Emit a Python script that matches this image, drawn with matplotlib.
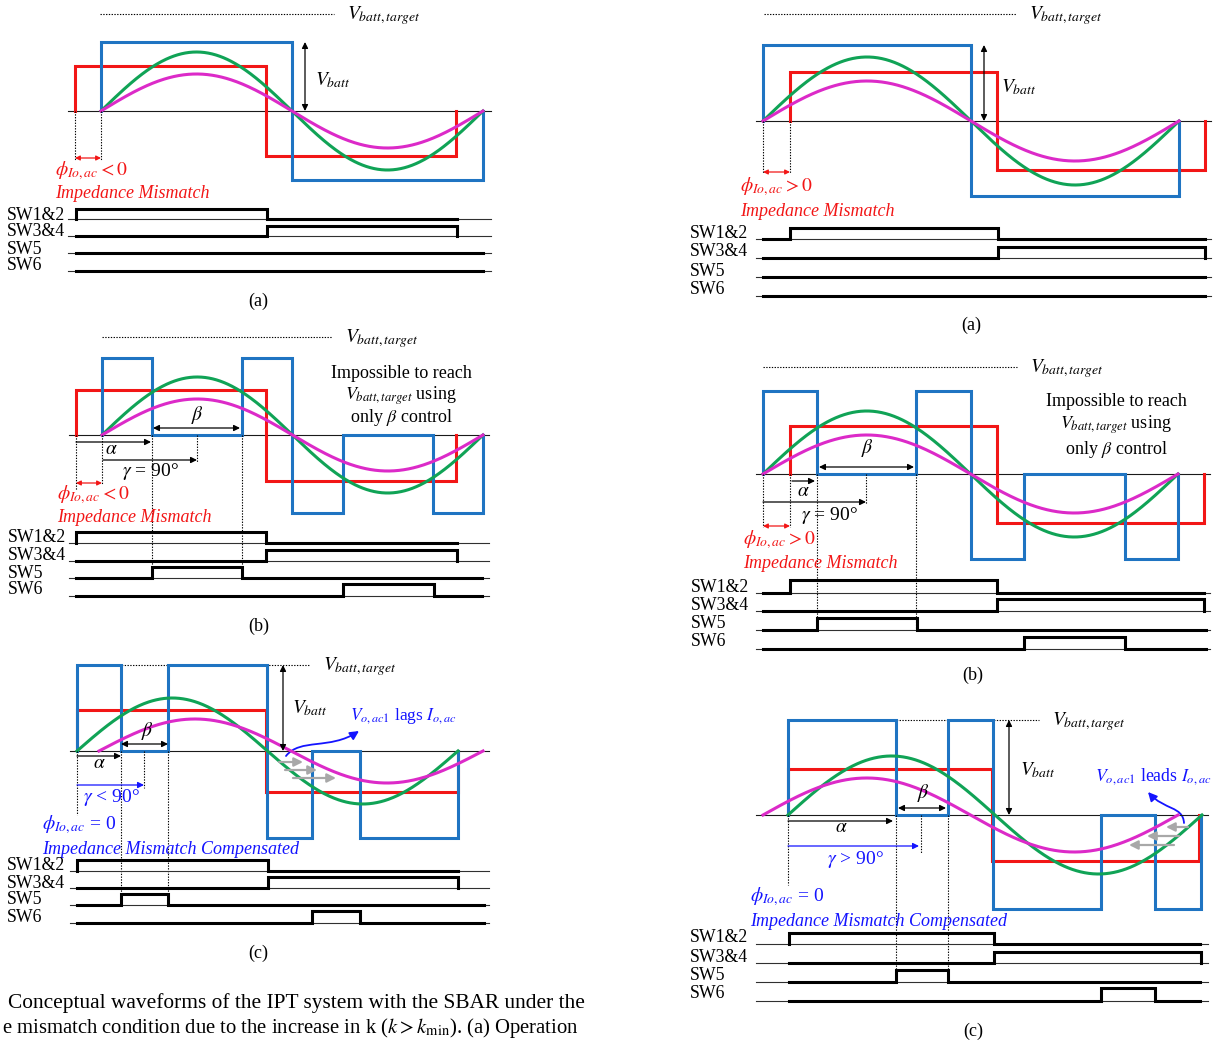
"""Conceptual SBAR waveforms under impedance mismatch: two columns of three panels."""
import matplotlib
import numpy as np

matplotlib.use('Agg')
import matplotlib.pyplot as plt
from matplotlib.patches import FancyArrowPatch
from matplotlib.path import Path

plt.rcParams['font.family'] = ['Liberation Serif', 'DejaVu Serif']
plt.rcParams['mathtext.fontset'] = 'stix'

RED = '#f21616'
BLUE = '#1f74c2'
GREEN = '#10a356'
MAGENTA = '#dc2ac8'
TXT_BLUE = '#1414ff'
GRAY = '#a8a8a8'

SW_NAMES = ['SW1&2', 'SW3&4', 'SW5', 'SW6']

# ---- left column -------------------------------------------------------
# (a)
LA_Y0 = 111
LA_AXIS = [68, 491]
LA_TARGET = (100, 334, 13.5)
LA_RED = ([75, 266, 456], [45, -45])
LA_BLUE = ([101, 292, 483], [69, -69])
LA_GREEN = (101, 191, 59, 483)            # start, half period, amplitude, end
LA_MAGENTA = (101, 191, 37, 483)
LA_SW_BASE = [219, 236, 253, 271]
LA_SW_LABEL = [215, 232, 249, 266]
LA_SW = [([76, 267, 457], [10, 0]),
         ([76, 267, 457], [0, 10]),
         ([76, 483], [0]),
         ([76, 483], [0])]

# (b)
LB_Y0 = 435
LB_AXIS = [69, 489]
LB_TARGET = (102, 332, 337)
LB_RED = ([76, 266, 456], [45, -46])
LB_BLUE = ([102, 152, 242, 292, 343, 433, 483], [77, 0, 77, -78, 0, -78])
LB_GREEN = (102, 190.5, 58, 483)
LB_MAGENTA = (102, 190.5, 36, 483)
LB_SW_BASE = [543, 561, 578, 596]
LB_SW_LABEL = [538, 556, 573, 590]
LB_SW = [([76, 266, 457], [11, 0]),
         ([76, 266, 457], [0, 11]),
         ([76, 152, 242, 482], [0, 11, 0]),
         ([76, 343, 434, 482], [0, 12, 0])]

# (c)
LC_Y0 = 751
LC_AXIS = [70, 489]
LC_TARGET = (77, 310, 665)
LC_RED = ([77, 266, 458], [41, -41])
LC_BLUE = ([77, 121, 168, 267, 312, 360, 458], [86, 0, 86, -87, 0, -87])
LC_GREEN = (77, 190.5, 53, 458)
LC_MAGENTA = (99, 192, 32, 483)
LC_SW_BASE = [871, 888, 905, 923]
LC_SW_LABEL = [866, 883, 900, 917]
LC_SW = [([77, 268, 458], [11, 0]),
         ([77, 268, 458], [0, 11]),
         ([77, 121, 168, 484], [0, 11, 0]),
         ([77, 312, 360, 484], [0, 12, 0])]

# ---- right column ------------------------------------------------------
# (a)
RA_Y0 = 121
RA_AXIS = [756, 1211]
RA_TARGET = (764, 1016, 14)
RA_RED = ([790, 997, 1205], [49, -49])
RA_BLUE = ([763, 971, 1179], [76, -75])
RA_GREEN = (763, 208, 64, 1179)
RA_MAGENTA = (763, 208, 40, 1179)
RA_SW_BASE = [239, 258, 277, 296]
RA_SW_LABEL = [233, 252, 271, 289]
RA_SW = [([763, 790, 998, 1205], [0, 11, 0]),
         ([763, 998, 1205], [0, 11]),
         ([763, 1205], [0]),
         ([763, 1205], [0])]

# (b)
RB_Y0 = 474
RB_AXIS = [756, 1210]
RB_TARGET = (763, 1017, 367)
RB_RED = ([790, 997, 1204], [48, -49])
RB_BLUE = ([763, 817, 916, 971, 1024, 1125, 1178], [83, 0, 83, -85, 0, -85])
RB_GREEN = (763, 207.5, 63, 1178)
RB_MAGENTA = (763, 207.5, 39, 1178)
RB_SW_BASE = [593, 611, 630, 649]
RB_SW_LABEL = [587, 605, 624, 642]
RB_SW = [([763, 790, 997, 1204], [0, 13, 0]),
         ([763, 997, 1204], [0, 12]),
         ([763, 817, 917, 1206], [0, 12, 0]),
         ([763, 1024, 1125, 1206], [0, 12, 0])]

# (c)
RC_Y0 = 815
RC_AXIS = [756, 1208]
RC_TARGET = (788, 1039, 720)
RC_RED = ([788, 992, 1199], [46, -46])
RC_BLUE = ([788, 896, 948, 993, 1101, 1155, 1201], [95, 0, 95, -94, 0, -94])
RC_GREEN = (788, 207, 59, 1202)
RC_MAGENTA = (763, 207.5, 37, 1178)
RC_SW_BASE = [944, 963, 982, 1001]
RC_SW_LABEL = [938, 957, 975, 994]
RC_SW = [([789, 994, 1200], [11, 0]),
         ([789, 994, 1201], [0, 11]),
         ([789, 896, 948, 1200], [0, 12, 0]),
         ([789, 1101, 1155, 1200], [0, 13, 0])]

FS_TXT = 13
FS_MATH = 14


def step_path(edges, levels, y0):
    xs, ys = [edges[0]], [y0]
    for i, lv in enumerate(levels):
        xs += [edges[i], edges[i + 1]]
        ys += [y0 - lv, y0 - lv]
    xs.append(edges[-1])
    ys.append(y0)
    return xs, ys


def dotted(ax, x0, y0, x1, y1):
    ax.plot([x0, x1], [y0, y1], color='k', lw=0.8, ls=(0, (1.2, 1.3)))


def arrow(ax, x0, y0, x1, y1, color='k', both=False, lw=0.9, ms=9):
    style = '<|-|>' if both else '-|>'
    ax.annotate('', xy=(x1, y1), xytext=(x0, y0),
                arrowprops=dict(arrowstyle=style, color=color, lw=lw,
                                shrinkA=0, shrinkB=0, mutation_scale=ms))


def draw_waves(ax, y0, axis_x, target, red, blue, green, magenta):
    ax.plot(axis_x, [y0, y0], color='#1a1a1a', lw=0.8)
    dotted(ax, target[0], target[2], target[1], target[2])
    ax.text(target[1] + 13, target[2] + 2, r'$V_{batt,target}$',
            fontsize=FS_MATH, va='center', ha='left')
    for (edges, levels), col in ((red, RED), (blue, BLUE)):
        xs, ys = step_path(edges, levels, y0)
        ax.plot(xs, ys, color=col, lw=2.2, solid_joinstyle='miter')
    for (xs0, hp, amp, xe), col in ((green, GREEN), (magenta, MAGENTA)):
        x = np.linspace(xs0, xe, 400)
        ax.plot(x, y0 - amp * np.sin(np.pi * (x - xs0) / hp), color=col, lw=2.2)


def draw_switches(ax, label_x, label_ys, base_ys, base_x, traces):
    for name, ly, by, (edges, levels) in zip(SW_NAMES, label_ys, base_ys, traces):
        ax.text(label_x, ly, name, fontsize=12.8, va='center', ha='left')
        ax.plot(base_x, [by, by], color='#303030', lw=0.8)
        xs, ys = step_path(edges, levels, by)
        ax.plot(xs, ys, color='k', lw=2.2, solid_joinstyle='miter')


def curved(ax, pts):
    # cubic bezier: start, two control points, arrow tip
    path = Path(pts, [Path.MOVETO, Path.CURVE4, Path.CURVE4, Path.CURVE4])
    ax.add_patch(FancyArrowPatch(path=path, arrowstyle='-|>', mutation_scale=13,
                                 color=TXT_BLUE, lw=1.3))


fig = plt.figure(figsize=(12.18, 10.42), dpi=100)
ax = fig.add_axes([0, 0, 1, 1])
ax.set_xlim(0, 1218)
ax.set_ylim(1042, 0)
ax.axis('off')

# ---------------- left (a) ----------------
draw_waves(ax, LA_Y0, LA_AXIS, LA_TARGET, LA_RED, LA_BLUE, LA_GREEN, LA_MAGENTA)
arrow(ax, 305, 42, 305, LA_Y0, both=True)
ax.text(315, 80, r'$V_{batt}$', fontsize=FS_MATH, va='center')
dotted(ax, 75, LA_Y0, 75, 160)
dotted(ax, 101, LA_Y0, 101, 160)
arrow(ax, 75, 158, 101, 158, color=RED, both=True, ms=7)
ax.text(55, 171, r'$\phi_{Io,ac} < 0$', color=RED, fontsize=FS_MATH, va='center')
ax.text(55, 194, 'Impedance Mismatch', color=RED, fontsize=FS_TXT, style='italic', va='center')
draw_switches(ax, 7, LA_SW_LABEL, LA_SW_BASE, LA_AXIS, LA_SW)
ax.text(258, 301, '(a)', fontsize=FS_TXT, ha='center', va='center')

# ---------------- left (b) ----------------
draw_waves(ax, LB_Y0, LB_AXIS, LB_TARGET, LB_RED, LB_BLUE, LB_GREEN, LB_MAGENTA)
arrow(ax, 153, 428, 240, 428, both=True)
ax.text(197, 415, r'$\beta$', fontsize=FS_MATH, ha='center', va='center')
arrow(ax, 76, 442, 151, 442)
ax.text(111, 449, r'$\alpha$', fontsize=FS_MATH, ha='center', va='center')
arrow(ax, 103, 460, 197, 460)
dotted(ax, 197, LB_Y0, 197, 462)
ax.text(150, 471, r'$\gamma$ = 90°', fontsize=FS_MATH, ha='center', va='center')
dotted(ax, 76, LB_Y0, 76, 490)
dotted(ax, 102, LB_Y0, 102, 485)
dotted(ax, 152, LB_Y0, 152, 577)
dotted(ax, 242, LB_Y0, 242, 577)
arrow(ax, 76, 483, 102, 483, color=RED, both=True, ms=7)
ax.text(57, 495, r'$\phi_{Io,ac} < 0$', color=RED, fontsize=FS_MATH, va='center')
ax.text(57, 518, 'Impedance Mismatch', color=RED, fontsize=FS_TXT, style='italic', va='center')
ax.text(401, 374, 'Impossible to reach', fontsize=FS_TXT, ha='center', va='center')
ax.text(401, 396, r'$V_{batt,target}$ using', fontsize=FS_TXT, ha='center', va='center')
ax.text(401, 418, r'only $\beta$ control', fontsize=FS_TXT, ha='center', va='center')
draw_switches(ax, 8, LB_SW_LABEL, LB_SW_BASE, LB_AXIS, LB_SW)
ax.text(259, 626, '(b)', fontsize=FS_TXT, ha='center', va='center')

# ---------------- left (c) ----------------
draw_waves(ax, LC_Y0, LC_AXIS, LC_TARGET, LC_RED, LC_BLUE, LC_GREEN, LC_MAGENTA)
arrow(ax, 283, 665, 283, LC_Y0, both=True)
ax.text(292, 708, r'$V_{batt}$', fontsize=FS_MATH, va='center')
arrow(ax, 121, 744, 168, 744, both=True)
ax.text(147, 731, r'$\beta$', fontsize=FS_MATH, ha='center', va='center')
arrow(ax, 77, 756, 121, 756)
ax.text(99, 763, r'$\alpha$', fontsize=FS_MATH, ha='center', va='center')
arrow(ax, 77, 785, 144, 785, color=TXT_BLUE)
dotted(ax, 144, LC_Y0, 144, 788)
ax.text(111, 797, r'$\gamma$ < 90°', color=TXT_BLUE, fontsize=FS_MATH, ha='center', va='center')
dotted(ax, 77, LC_Y0, 77, 815)
dotted(ax, 121, LC_Y0, 121, 906)
dotted(ax, 168, LC_Y0, 168, 906)
ax.text(42, 825, r'$\phi_{Io,ac}$ = 0', color=TXT_BLUE, fontsize=FS_MATH, va='center')
ax.text(42, 849, 'Impedance Mismatch Compensated', color=TXT_BLUE, fontsize=FS_TXT,
        style='italic', va='center')
ax.text(350, 716, r'$V_{o,ac1}$ lags $I_{o,ac}$', color=TXT_BLUE, fontsize=12.5, va='center')
curved(ax, [(286, 756), (300, 738), (330, 750), (359, 731)])
for x0, x1, y in ((279, 303, 762), (285, 317, 770), (293, 336, 778)):
    arrow(ax, x0, y, x1, y, color=GRAY, lw=1.6, ms=13)
draw_switches(ax, 7, LC_SW_LABEL, LC_SW_BASE, LC_AXIS, LC_SW)
ax.text(258, 953, '(c)', fontsize=FS_TXT, ha='center', va='center')

# ---------------- right (a) ----------------
draw_waves(ax, RA_Y0, RA_AXIS, RA_TARGET, RA_RED, RA_BLUE, RA_GREEN, RA_MAGENTA)
arrow(ax, 984, 45, 984, RA_Y0, both=True)
ax.text(1001, 87, r'$V_{batt}$', fontsize=FS_MATH, va='center')
dotted(ax, 763, RA_Y0, 763, 173)
dotted(ax, 790, RA_Y0, 790, 173)
arrow(ax, 763, 172, 790, 172, color=RED, both=True, ms=7)
ax.text(740, 187, r'$\phi_{Io,ac} > 0$', color=RED, fontsize=FS_MATH, va='center')
ax.text(740, 212, 'Impedance Mismatch', color=RED, fontsize=FS_TXT, style='italic', va='center')
draw_switches(ax, 690, RA_SW_LABEL, RA_SW_BASE, RA_AXIS, RA_SW)
ax.text(971, 325, '(a)', fontsize=FS_TXT, ha='center', va='center')

# ---------------- right (b) ----------------
draw_waves(ax, RB_Y0, RB_AXIS, RB_TARGET, RB_RED, RB_BLUE, RB_GREEN, RB_MAGENTA)
arrow(ax, 819, 467, 914, 467, both=True)
ax.text(867, 448, r'$\beta$', fontsize=FS_MATH, ha='center', va='center')
arrow(ax, 792, 481, 815, 481)
ax.text(803, 492, r'$\alpha$', fontsize=FS_MATH, ha='center', va='center')
arrow(ax, 763, 502, 866, 502)
dotted(ax, 866, RB_Y0, 866, 504)
ax.text(829, 516, r'$\gamma$ = 90°', fontsize=FS_MATH, ha='center', va='center')
dotted(ax, 763, RB_Y0, 763, 527)
dotted(ax, 790, RB_Y0, 790, 527)
dotted(ax, 817, RB_Y0, 817, 630)
dotted(ax, 916, RB_Y0, 916, 630)
arrow(ax, 763, 526, 790, 526, color=RED, both=True, ms=7)
ax.text(743, 540, r'$\phi_{Io,ac} > 0$', color=RED, fontsize=FS_MATH, va='center')
ax.text(743, 564, 'Impedance Mismatch', color=RED, fontsize=FS_TXT, style='italic', va='center')
ax.text(1116, 402, 'Impossible to reach', fontsize=FS_TXT, ha='center', va='center')
ax.text(1116, 425, r'$V_{batt,target}$ using', fontsize=FS_TXT, ha='center', va='center')
ax.text(1116, 449, r'only $\beta$ control', fontsize=FS_TXT, ha='center', va='center')
draw_switches(ax, 691, RB_SW_LABEL, RB_SW_BASE, RB_AXIS, RB_SW)
ax.text(973, 675, '(b)', fontsize=FS_TXT, ha='center', va='center')

# ---------------- right (c) ----------------
draw_waves(ax, RC_Y0, RC_AXIS, RC_TARGET, RC_RED, RC_BLUE, RC_GREEN, RC_MAGENTA)
arrow(ax, 1009, 720, 1009, RC_Y0, both=True)
ax.text(1020, 770, r'$V_{batt}$', fontsize=FS_MATH, va='center')
arrow(ax, 898, 808, 946, 808, both=True)
ax.text(923, 793, r'$\beta$', fontsize=FS_MATH, ha='center', va='center')
arrow(ax, 788, 821, 893, 821)
ax.text(841, 828, r'$\alpha$', fontsize=FS_MATH, ha='center', va='center')
arrow(ax, 788, 846, 919, 846, color=TXT_BLUE)
dotted(ax, 921, RC_Y0, 921, 853)
ax.text(855, 859, r'$\gamma$ > 90°', color=TXT_BLUE, fontsize=FS_MATH, ha='center', va='center')
dotted(ax, 788, RC_Y0, 788, 885)
dotted(ax, 896, RC_Y0, 896, 982)
dotted(ax, 948, RC_Y0, 948, 982)
ax.text(750, 897, r'$\phi_{Io,ac}$ = 0', color=TXT_BLUE, fontsize=FS_MATH, va='center')
ax.text(750, 921, 'Impedance Mismatch Compensated', color=TXT_BLUE, fontsize=FS_TXT,
        style='italic', va='center')
ax.text(1095, 777, r'$V_{o,ac1}$ leads $I_{o,ac}$', color=TXT_BLUE, fontsize=12.8, va='center')
curved(ax, [(1184, 823), (1183, 806), (1164, 810), (1148, 792)])
for x0, x1, y in ((1188, 1166, 827), (1179, 1147, 836), (1174, 1129, 845)):
    arrow(ax, x0, y, x1, y, color=GRAY, lw=1.6, ms=13)
draw_switches(ax, 690, RC_SW_LABEL, RC_SW_BASE, RC_AXIS, RC_SW)
ax.text(973, 1031, '(c)', fontsize=FS_TXT, ha='center', va='center')

# figure caption at the bottom left
ax.text(585, 1003, 'Conceptual waveforms of the IPT system with the SBAR under the',
        fontsize=15.4, ha='right', va='center')
ax.text(2, 1028, r'e mismatch condition due to the increase in k ($k > k_{\min}$). (a) Operation',
        fontsize=14.9, ha='left', va='center')

fig.savefig('out.png', dpi=100)
plt.close(fig)
